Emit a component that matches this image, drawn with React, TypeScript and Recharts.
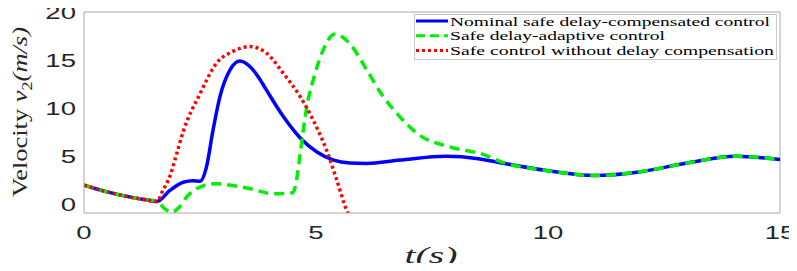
import { LineChart, Line, XAxis, YAxis, ReferenceLine } from "recharts";

// time samples (s) and velocity values (m/s)
const blueT = [0, 0.5, 1.0, 1.3, 1.57, 1.85, 2.14, 2.35, 2.5, 2.64, 2.78, 2.93, 3.15, 3.36, 3.58, 3.75, 3.93, 4.3, 4.66, 5.02, 5.38, 5.73, 6.09, 6.81, 7.8, 8.5, 9.0, 10.0, 11.0, 12.0, 13.0, 14.05, 15.0];
const blueV = [2.0, 1.3, 0.75, 0.5, 0.3, 1.45, 2.3, 2.45, 2.4, 3.9, 7.7, 11.2, 14.0, 14.9, 14.3, 13.3, 11.9, 9.1, 6.9, 5.45, 4.6, 4.3, 4.25, 4.6, 5.0, 4.75, 4.3, 3.5, 3.0, 3.4, 4.3, 5.0, 4.65];

const greenT = [0, 0.5, 1.0, 1.3, 1.57, 1.75, 1.89, 2.05, 2.21, 2.5, 2.86, 3.2, 3.58, 4.08, 4.5, 4.58, 4.66, 4.8, 4.98, 5.15, 5.41, 5.73, 6.09, 6.45, 6.81, 7.17, 7.9, 8.6, 9.0, 10.0, 11.0, 12.0, 13.0, 14.05, 15.0];
const greenV = [2.0, 1.3, 0.75, 0.5, 0.3, -0.5, -0.85, -0.3, 0.76, 1.8, 2.15, 1.95, 1.63, 1.1, 1.2, 2.5, 5.3, 10.1, 13.6, 16.0, 17.7, 16.7, 14.0, 11.2, 9.1, 7.4, 5.95, 5.2, 4.4, 3.5, 3.0, 3.4, 4.3, 5.0, 4.65];

const redT = [0, 0.5, 1.0, 1.3, 1.57, 1.7, 1.85, 2.0, 2.14, 2.5, 2.86, 3.21, 3.58, 3.94, 4.3, 4.66, 4.94, 5.23, 5.45, 5.66, 5.75];
const redV = [2.0, 1.3, 0.75, 0.5, 0.3, 1.45, 2.9, 5.3, 7.6, 11.5, 14.7, 15.9, 16.4, 15.7, 13.6, 11.2, 8.75, 5.6, 2.5, -0.6, -1.5];

const xTicks = [0, 5, 10, 15];
const yTicks = [0, 5, 10, 15, 20];

const seriesNames = [
  "Nominal safe delay-compensated control",
  "Safe delay-adaptive control",
  "Safe control without delay compensation",
];

const toPoints = (ts: number[], vs: number[]) => ts.map((t, i) => ({ t, v: vs[i] }));
const blueData = toPoints(blueT, blueV);
const greenData = toPoints(greenT, greenV);
const redData = toPoints(redT, redV);

const tickFont = "'Liberation Sans', Arial, sans-serif";
const serif = "'Liberation Serif', 'DejaVu Serif', serif";
const axisColor = "#a8a8a8";

const XTick = (props: any) => {
  const { x, y, payload } = props;
  return (
    <text
      transform={`translate(${x},${y + 18}) scale(1.45,1)`}
      textAnchor="middle"
      fontFamily={tickFont}
      fontSize={19}
      fill="#262626"
    >
      {payload.value}
    </text>
  );
};

const YTick = (props: any) => {
  const { x, y, payload } = props;
  return (
    <text
      transform={`translate(${x},${y + 7}) scale(1.45,1)`}
      textAnchor="end"
      fontFamily={tickFont}
      fontSize={19}
      fill="#262626"
    >
      {payload.value}
    </text>
  );
};

const lineStyles = [
  { color: "#0000ff", dash: undefined },
  { color: "#00ee00", dash: "9 5" },
  { color: "#ff0000", dash: "3 3" },
];
const legendWidths = [320, 215, 324];

export default function App() {
  return (
    <div style={{ margin: -8, width: 797, height: 271, position: "relative", background: "#fff" }}>
      <LineChart width={797} height={271} margin={{ top: 12, right: 17, bottom: 0, left: 24 }}>
        <XAxis
          dataKey="t"
          type="number"
          domain={[0, 15]}
          ticks={xTicks}
          allowDataOverflow
          stroke={axisColor}
          tickLine={false}
          tick={<XTick />}
          height={58}
        />
        <YAxis
          dataKey="v"
          type="number"
          domain={[-0.9, 20]}
          ticks={yTicks}
          allowDataOverflow
          stroke={axisColor}
          tickLine={false}
          tick={<YTick />}
          width={60}
        />
        <ReferenceLine y={20} stroke={axisColor} />
        <ReferenceLine x={15} stroke={axisColor} />
        <Line data={blueData} dataKey="v" type="monotone" stroke="#0000ff" strokeWidth={3.5} dot={false} isAnimationActive={false} />
        <Line data={greenData} dataKey="v" type="monotone" stroke="#00ee00" strokeWidth={3.5} strokeDasharray="10 6" dot={false} isAnimationActive={false} />
        <Line data={redData} dataKey="v" type="monotone" stroke="#ff0000" strokeWidth={3.5} strokeDasharray="3 3" dot={false} isAnimationActive={false} />
      </LineChart>
      <svg width={797} height={271} style={{ position: "absolute", left: 0, top: 0, pointerEvents: "none" }}>
        <g transform="translate(414,14)">
          <rect x={0.5} y={0.5} width={362} height={45} fill="#fff" stroke="#c8c8c8" />
          {seriesNames.map((name, i) => {
            const cy = 7 + i * 14.7;
            return (
              <g key={name}>
                <line
                  x1={2}
                  x2={34}
                  y1={cy}
                  y2={cy}
                  stroke={lineStyles[i].color}
                  strokeWidth={3}
                  strokeDasharray={lineStyles[i].dash}
                />
                <text
                  x={36}
                  y={cy + 4.5}
                  fontFamily={serif}
                  fontSize={13}
                  textLength={legendWidths[i]}
                  lengthAdjust="spacingAndGlyphs"
                  fill="#000"
                >
                  {name}
                </text>
              </g>
            );
          })}
        </g>
        <text
          transform="translate(27,112) rotate(-90)"
          textAnchor="middle"
          fontFamily={serif}
          fontSize={22}
          textLength={170}
          lengthAdjust="spacingAndGlyphs"
          fill="#262626"
        >
          Velocity <tspan fontStyle="italic">v</tspan>
          <tspan fontSize={15} dy={5}>2</tspan>
          <tspan dy={-5} fontStyle="italic">(m/s)</tspan>
        </text>
        <text
          x={431}
          y={263}
          textAnchor="middle"
          fontFamily={serif}
          fontSize={24}
          fontStyle="italic"
          textLength={53}
          lengthAdjust="spacingAndGlyphs"
          fill="#262626"
        >
          t(s)
        </text>
      </svg>
    </div>
  );
}
